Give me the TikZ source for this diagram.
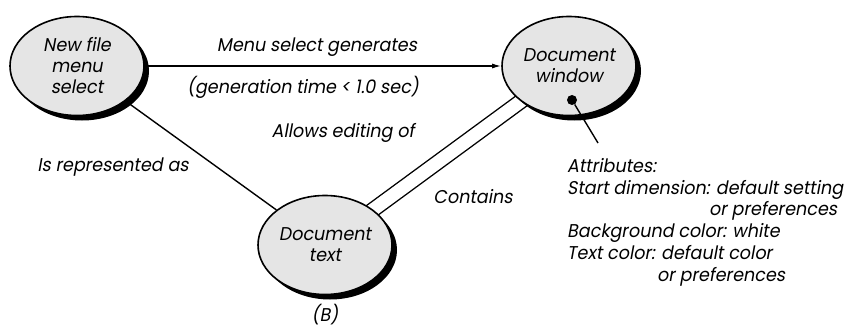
\documentclass[tikz,border=0pt]{standalone}
\usepackage{fontspec}
\setmainfont{Poppins}[FakeSlant=0.18,FakeStretch=0.95]
\usetikzlibrary{arrows.meta,shapes.geometric,shadows,backgrounds}

\tikzset{
	concept/.style={ellipse,draw,line width=1.6pt,fill=gray!20,
		minimum width=134pt,minimum height=99pt,inner sep=0pt,align=center,
		drop shadow={shadow xshift=5pt,shadow yshift=-5pt,fill=black,opacity=1}},
	rel/.style={line width=1.4pt},
}

\begin{document}
\begin{tikzpicture}[x=1pt,y=-1pt,font=\fontsize{18.5}{21}\selectfont]
		\useasboundingbox (0,0) rectangle (844,329);
		
		\begin{scope}[every node/.style={concept}]
			\node (menu) at (77,66) {New file\\menu\\select};
			\node (win) at (569,66) {Document\\window};
			\node (txt) at (325,245) {Document\\text};
		\end{scope}
		\node[circle,fill,inner sep=0pt,minimum size=10pt] (wdot) at (572,100) {};
		\coordinate (tip) at (598,143);
		
		% links between the concepts
		\begin{scope}[on background layer]
			\draw[rel,double,double distance=13pt] (txt.center) -- (win.center);
		\end{scope}
		\draw[rel] (menu) -- (txt);
		\draw[rel,-{Latex[length=9pt,width=5pt]}] (menu) -- (win);
		\draw[rel] (wdot) -- (tip);
		
		% labels
		\node (gen) at (317,47) {Menu select generates};
		\node (time) at (303,87) {(generation time < 1.0 sec)};
		\node (edit) at (343,133) {Allows editing of};
		\node (repr) at (113,167) {Is represented as};
		\node (cont) at (473,197) {Contains};
		\node (capB) at (325,315) {(B)};
		\node[anchor=north west,align=left,inner sep=0pt,
			font=\fontsize{18.5}{21.75}\selectfont] (attrs) at (567,158)
			{Attributes:\\Start dimension: default setting\\
			\hspace*{142pt}or preferences\\Background color: white\\
			Text color: default color\\\hspace*{90pt}or preferences};
	\end{tikzpicture}
\end{document}
